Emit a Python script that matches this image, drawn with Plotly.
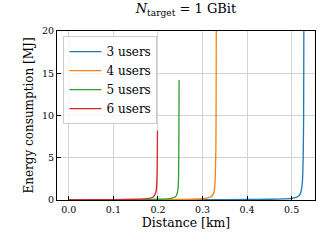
import plotly.graph_objects as go

# Data (distance in km, energy in MJ)
u3_x = [0.0, 0.1, 0.2, 0.3, 0.4, 0.45, 0.48, 0.50, 0.51, 0.515, 0.519, 0.522, 0.524, 0.525, 0.526, 0.527, 0.5275]
u3_y = [0.02, 0.02, 0.03, 0.04, 0.06, 0.09, 0.13, 0.2, 0.3, 0.45, 0.7, 1.2, 2.0, 3.0, 5.0, 10.0, 21.0]
u4_x = [0.0, 0.1, 0.2, 0.25, 0.28, 0.30, 0.31, 0.318, 0.322, 0.325, 0.327, 0.328, 0.329, 0.330, 0.3305, 0.331]
u4_y = [0.02, 0.03, 0.05, 0.07, 0.1, 0.15, 0.22, 0.35, 0.5, 0.8, 1.3, 2.0, 3.2, 6.0, 10.0, 21.0]
u5_x = [0.0, 0.1, 0.15, 0.2, 0.22, 0.23, 0.237, 0.241, 0.243, 0.245, 0.246, 0.2465, 0.247, 0.2475]
u5_y = [0.02, 0.03, 0.05, 0.09, 0.14, 0.2, 0.32, 0.5, 0.75, 1.3, 2.2, 3.5, 7.0, 14.2]
u6_x = [0.0, 0.05, 0.1, 0.15, 0.17, 0.18, 0.187, 0.191, 0.194, 0.196, 0.197, 0.198, 0.1985, 0.199]
u6_y = [0.02, 0.03, 0.05, 0.09, 0.14, 0.2, 0.3, 0.45, 0.7, 1.1, 1.7, 3.0, 5.0, 8.2]

labels = ["3 users", "4 users", "5 users", "6 users"]
colors = ["#1f77b4", "#ff7f0e", "#2ca02c", "#d62728"]
series = [(u3_x, u3_y), (u4_x, u4_y), (u5_x, u5_y), (u6_x, u6_y)]

x_ticks = [0.0, 0.1, 0.2, 0.3, 0.4, 0.5]
x_ticktext = ["0.0", "0.1", "0.2", "0.3", "0.4", "0.5"]
y_ticks = [0, 5, 10, 15, 20]

FONT = "DejaVu Serif"

fig = go.Figure()
for (x, y), name, c in zip(series, labels, colors):
    fig.add_trace(go.Scatter(x=x, y=y, mode="lines", name=name,
                             line=dict(color=c, width=1.3, shape="spline", smoothing=0.6)))

fig.update_layout(
    width=328, height=246, autosize=False,
    margin=dict(l=57, r=13, t=31, b=46, autoexpand=False),
    paper_bgcolor="white", plot_bgcolor="white",
    font=dict(family=FONT, size=11, color="black"),
    title=dict(text="<i>N</i><sub>target</sub> = 1 GBit", x=0.567, xanchor="center",
               y=0.985, yanchor="top", font=dict(family=FONT, size=13)),
    legend=dict(x=0.025, y=0.97, xanchor="left", yanchor="top",
                bordercolor="#cccccc", borderwidth=1, bgcolor="rgba(255,255,255,0.8)",
                font=dict(family=FONT, size=12), tracegroupgap=0, itemwidth=32),
    showlegend=True,
)
fig.update_xaxes(
    range=[-0.0265, 0.5525], tickvals=x_ticks, ticktext=x_ticktext,
    showgrid=True, gridcolor="#d3d3d3", gridwidth=1,
    showline=True, linecolor="black", linewidth=1.2, mirror=True,
    ticks="inside", ticklen=4, tickcolor="black", zeroline=False,
    tickfont=dict(family=FONT, size=9.5), automargin=False,
    title=dict(text="Distance [km]", font=dict(family=FONT, size=12.5), standoff=3),
)
fig.update_yaxes(
    range=[0, 20], tickvals=y_ticks,
    showgrid=True, gridcolor="#d3d3d3", gridwidth=1,
    showline=True, linecolor="black", linewidth=1.2, mirror=True,
    ticks="inside", ticklen=4, tickcolor="black", zeroline=False,
    tickfont=dict(family=FONT, size=9.5), automargin=False,
    title=dict(text="Energy consumption [MJ]", font=dict(family=FONT, size=12), standoff=5),
)

fig.write_html("out.html", config={"displayModeBar": False},
               post_script="document.body.style.margin='0';document.body.style.overflow='hidden';")
